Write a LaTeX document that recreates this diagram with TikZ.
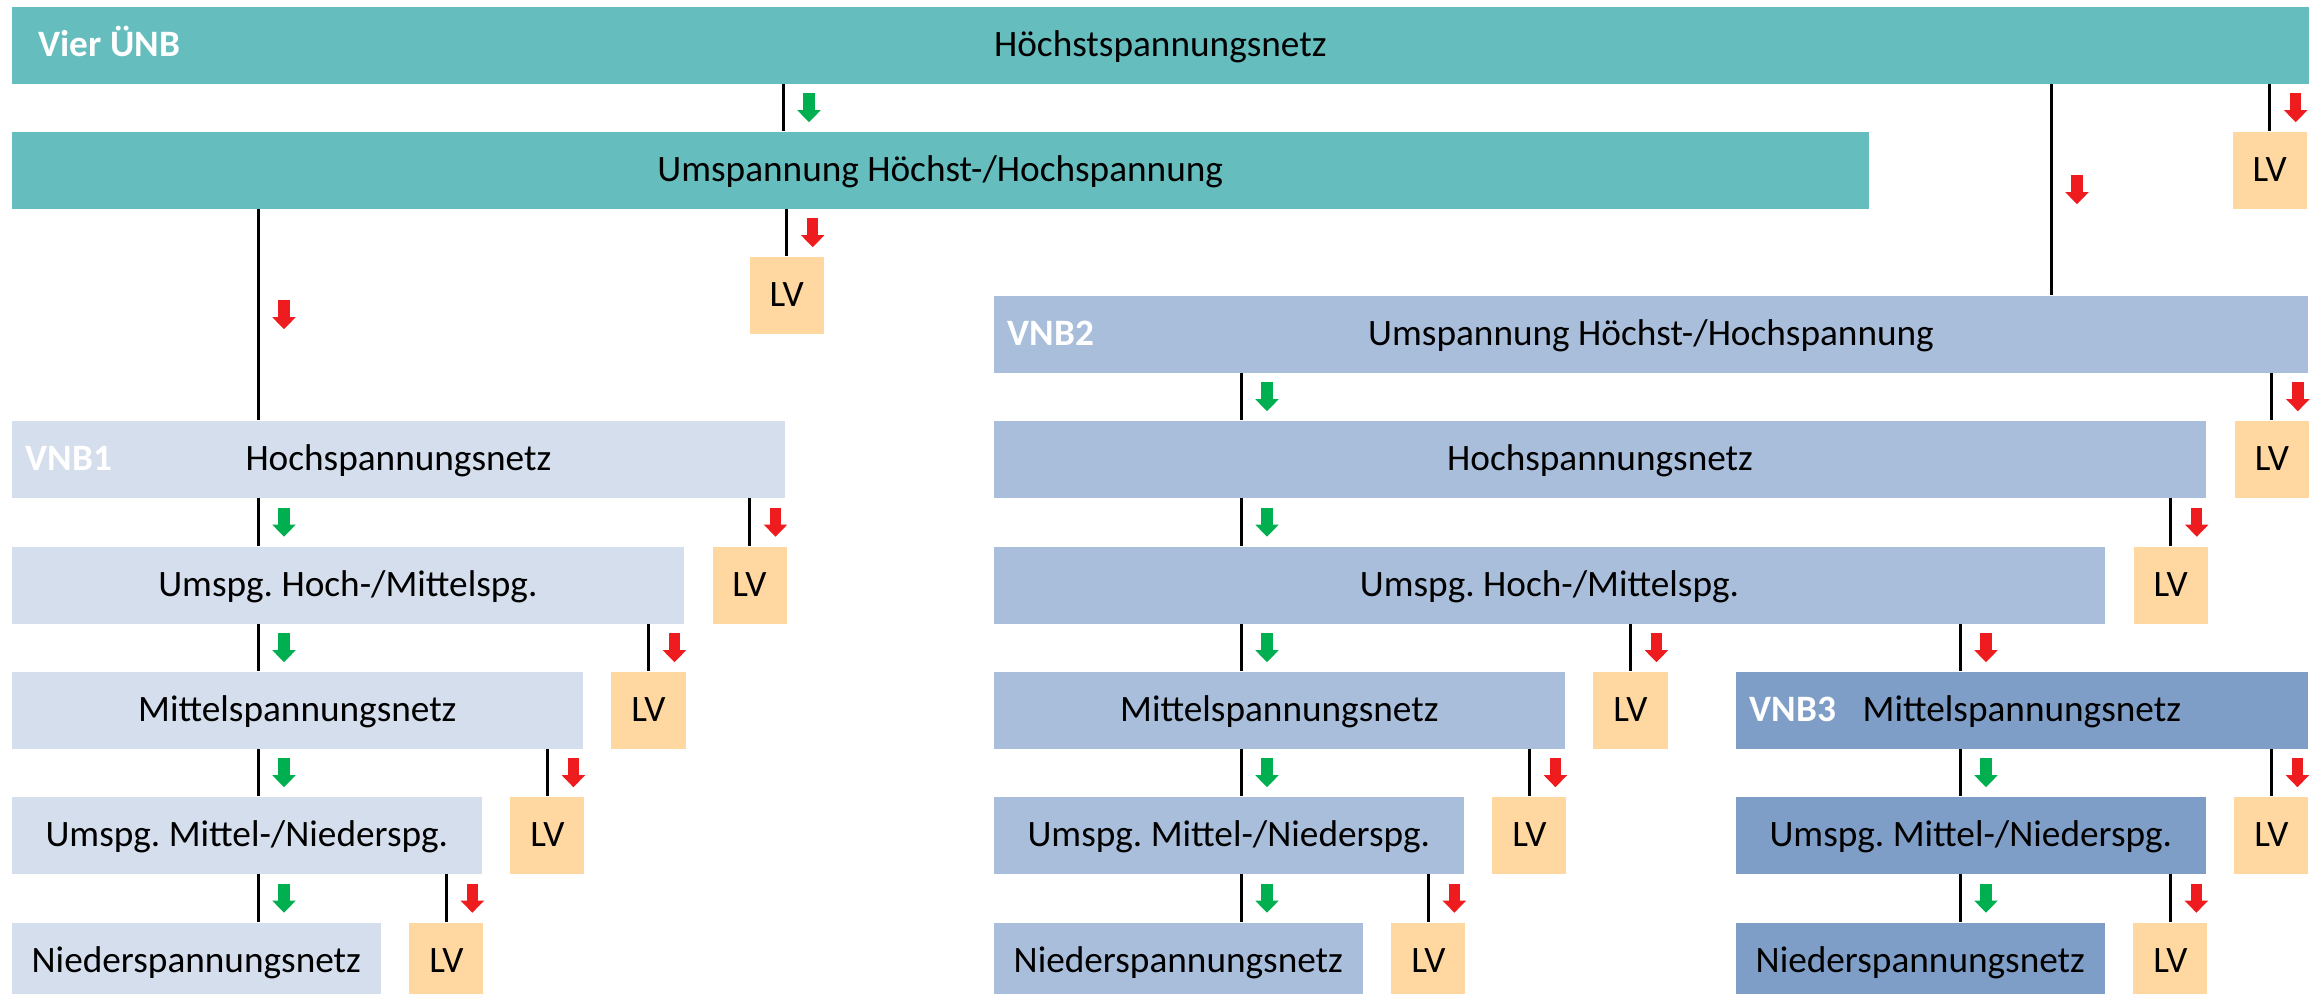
\documentclass[tikz,border=0pt]{standalone}
\usepackage{fontspec}
\setmainfont{Carlito}
\usetikzlibrary{positioning}
\usetikzlibrary{arrows.meta}
\definecolor{uenbteal}{RGB}{102,189,190}
\definecolor{vnbone}{RGB}{213,222,237}
\definecolor{vnbtwo}{RGB}{169,190,219}
\definecolor{vnbthree}{RGB}{126,158,199}
\definecolor{lvorange}{RGB}{254,216,160}
\definecolor{gaingreen}{RGB}{0,176,80}
\definecolor{lossred}{RGB}{238,28,30}
\frenchspacing

\begin{document}
\begin{tikzpicture}[%
  x=0.01cm, y=-0.01cm,
  font=\fontsize{10.6}{12.7}\selectfont,
  net/.style={rectangle, inner sep=0pt, anchor=north west, fill=#1,
    minimum height=0.77cm, text height=0.23cm, text depth=0pt},
  lv/.style={net=lvorange, minimum width=0.74cm},
  tag/.style={anchor=west, inner sep=0pt, text=white,
    text height=0.23cm, text depth=0pt,
    font=\fontsize{10.6}{12.7}\selectfont\bfseries},
  link/.style={line width=0.03cm},
  gain/.style={gaingreen, line width=0.113cm,
    -{Triangle[length=0.12cm, width=0.233cm, line width=0pt]}},
  loss/.style={gain, lossred},
]

  \useasboundingbox (0,0) rectangle (2317,993);
  \clip (0,0) rectangle (2317,993);

  % Uebertragungsnetz
  \node[net=uenbteal, minimum width=22.96cm] (hoe) at (11,6) {Höchstspannungsnetz};
  \node[net=uenbteal, minimum width=18.56cm] (hoeums) at (11,131) {Umspannung Höchst-/Hochspannung};
  \node[lv] (lv0) at (2232,131) {LV};
  \node[lv] (lv1) at (749,256) {LV};
  \node[tag] at ([xshift=0.27cm]hoe.west) {Vier ÜNB};

  % VNB1
  \node[net=vnbone, minimum width=7.73cm] (v1hs) at (11,420) {Hochspannungsnetz};
  \node[net=vnbone, minimum width=6.72cm] (v1hm) at (11,546) {Umspg. Hoch-/Mittelspg.};
  \node[net=vnbone, minimum width=5.71cm] (v1ms) at (11,671) {Mittelspannungsnetz};
  \node[net=vnbone, minimum width=4.70cm] (v1mn) at (11,796) {Umspg. Mittel-/Niederspg.};
  \node[net=vnbone, minimum width=3.69cm] (v1ns) at (11,922) {Niederspannungsnetz};
  \node[lv, right=0.27cm of v1hm] (v1lv1) {LV};
  \node[lv, right=0.27cm of v1ms] (v1lv2) {LV};
  \node[lv, right=0.27cm of v1mn] (v1lv3) {LV};
  \node[lv, right=0.27cm of v1ns] (v1lv4) {LV};
  \node[tag] at ([xshift=0.14cm]v1hs.west) {VNB1};

  % VNB2
  \node[net=vnbtwo, minimum width=13.14cm] (v2um) at (993,295) {Umspannung Höchst-/Hochspannung};
  \node[net=vnbtwo, minimum width=12.12cm] (v2hs) at (993,420) {Hochspannungsnetz};
  \node[net=vnbtwo, minimum width=11.11cm] (v2hm) at (993,546) {Umspg. Hoch-/Mittelspg.};
  \node[net=vnbtwo, minimum width=5.71cm] (v2ms) at (993,671) {Mittelspannungsnetz};
  \node[net=vnbtwo, minimum width=4.70cm] (v2mn) at (993,796) {Umspg. Mittel-/Niederspg.};
  \node[net=vnbtwo, minimum width=3.69cm] (v2ns) at (993,922) {Niederspannungsnetz};
  \node[lv, right=0.27cm of v2hs] (v2lv0) {LV};
  \node[lv, right=0.27cm of v2hm] (v2lv1) {LV};
  \node[lv, right=0.27cm of v2ms] (v2lv2) {LV};
  \node[lv, right=0.27cm of v2mn] (v2lv3) {LV};
  \node[lv, right=0.27cm of v2ns] (v2lv4) {LV};
  \node[tag] at ([xshift=0.14cm]v2um.west) {VNB2};

  % VNB3
  \node[net=vnbthree, minimum width=5.72cm] (v3ms) at (1735,671) {Mittelspannungsnetz};
  \node[net=vnbthree, minimum width=4.70cm] (v3mn) at (1735,796) {Umspg. Mittel-/Niederspg.};
  \node[net=vnbthree, minimum width=3.69cm] (v3ns) at (1735,922) {Niederspannungsnetz};
  \node[lv, right=0.27cm of v3mn] (v3lv1) {LV};
  \node[lv, right=0.27cm of v3ns] (v3lv2) {LV};
  \node[tag] at ([xshift=0.14cm]v3ms.west) {VNB3};

  % Leitungen
  \coordinate (k0) at (783,0);
  \coordinate (k1) at (2051,0);
  \coordinate (c1) at (258,0);
  \coordinate (c2) at (1241,0);
  \coordinate (c3) at (1960,0);

  \foreach \a/\b/\k/\f in {%
      hoe/hoeums/k0/gain, hoe/v2um/k1/loss, hoe/lv0/lv0/loss,
      hoeums/v1hs/c1/loss, hoeums/lv1/lv1/loss,
      v1hs/v1hm/c1/gain, v1hm/v1ms/c1/gain, v1ms/v1mn/c1/gain, v1mn/v1ns/c1/gain,
      v1hs/v1lv1/v1lv1/loss, v1hm/v1lv2/v1lv2/loss, v1ms/v1lv3/v1lv3/loss, v1mn/v1lv4/v1lv4/loss,
      v2um/v2hs/c2/gain, v2hs/v2hm/c2/gain, v2hm/v2ms/c2/gain, v2ms/v2mn/c2/gain, v2mn/v2ns/c2/gain,
      v2um/v2lv0/v2lv0/loss, v2hs/v2lv1/v2lv1/loss, v2hm/v2lv2/v2lv2/loss,
      v2ms/v2lv3/v2lv3/loss, v2mn/v2lv4/v2lv4/loss,
      v2hm/v3ms/c3/loss, v3ms/v3mn/c3/gain, v3mn/v3ns/c3/gain,
      v3ms/v3lv1/v3lv1/loss, v3mn/v3lv2/v3lv2/loss}
  {
    \draw[link] (\a.south -| \k) -- coordinate[midway] (m) (\b.north -| \k);
    \draw[\f] ([shift={(26,-14.5)}]m) -- ++(0,29);
  }

\end{tikzpicture}
\end{document}
